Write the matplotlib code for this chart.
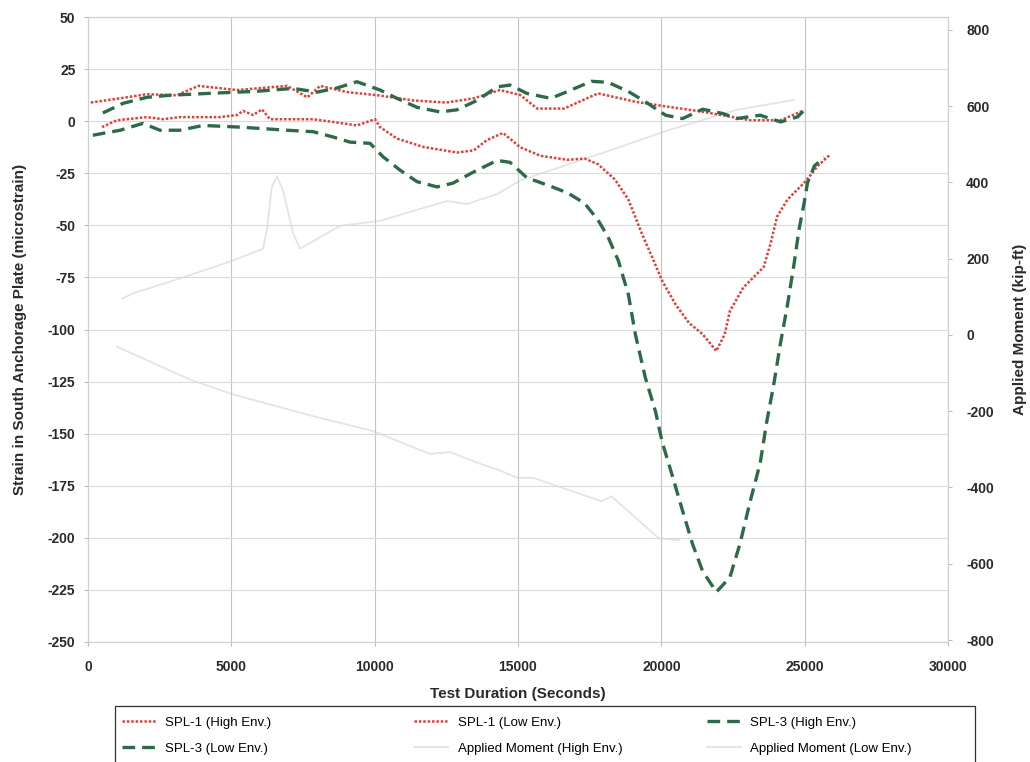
import numpy as np
import matplotlib.pyplot as plt
from matplotlib.patches import Rectangle

# values
# time in seconds, strain in microstrain
spl1_high_t = [100, 1100, 2050, 3100, 3850, 5200, 6950, 7650, 8100, 9050, 10100, 11350, 12500,
               13450, 14370, 15080, 15670, 16610, 17790, 19090, 20030, 21440, 23090, 24160, 24980]
spl1_high = [9, 11, 13, 12.5, 17, 15, 17, 11.5, 17, 14, 12.5, 10, 9,
             11, 15, 12.6, 6.1, 6.1, 13.4, 9.4, 7.4, 4.6, 0.5, 0.5, 5.3]

spl1_low_t = [490, 1010, 2050, 2620, 3200, 4600, 5200, 5410, 5760, 6070, 6350, 7850, 8790, 9380,
              10010, 10190, 10780, 11690, 12870, 13450, 13920, 14480, 15080, 15790, 16730, 17320,
              17790, 18380, 18850, 19320, 19680, 20030, 20500, 20970, 21440, 21920, 22210, 22390,
              22860, 23570, 23810, 24040, 24400, 25040, 25460, 25870]
spl1_low = [-2.8, 0.5, 2, 1, 2, 2, 3, 5, 3, 5.7, 1, 1, -0.8, -2,
            1, -2.8, -8.3, -12.3, -15, -14, -9, -5.6, -12.5, -16.6, -18.5, -17.9,
            -20.6, -27.9, -37.6, -53.9, -65.2, -76.6, -88, -96.9, -102.2, -110.3, -102.2, -91.2,
            -79.8, -70, -58.7, -45.7, -37.6, -28.7, -21.4, -16.2]

spl3_high_t = [520, 1220, 2050, 2860, 4360, 5900, 7150, 7990, 8690, 9380, 10190, 10780, 11480,
               12280, 12870, 13570, 14270, 14720, 15310, 16140, 16730, 17560, 18140, 18850, 19440,
               20150, 20740, 21440, 22150, 22620, 23450, 24160, 24750, 25040]
spl3_high = [4, 8.6, 11.5, 12.5, 13.5, 14.4, 15.8, 14, 16, 19, 15, 11, 6.7,
             4.5, 5.5, 10, 16.5, 17.4, 13.4, 11, 14.3, 19.2, 18.7, 14.3, 9.4,
             2.9, 1.3, 5.8, 3.7, 1.3, 2.9, -0.3, 2.1, 6.1]

spl3_low_t = [170, 1120, 1920, 2510, 3210, 4010, 5300, 6950, 7850, 8540, 9140, 9840, 10290, 10890,
              11480, 12180, 12730, 13430, 14270, 14720, 15310, 16140, 16730, 17320, 17790, 18140,
              18500, 18850, 19090, 19440, 19800, 20030, 20380, 20740, 21090, 21440, 21920, 22390,
              22740, 23090, 23450, 23680, 23920, 24150, 24390, 24630, 24800, 24980, 25100, 25340, 25690]
spl3_low = [-6.7, -4.3, -1, -4.3, -4.3, -2, -2.8, -4.3, -5, -7.5, -10, -10.6, -17, -23.5,
            -29, -31.5, -29.7, -24.5, -18.8, -19.7, -27.1, -31.2, -34.4, -39.3, -47.4, -55.5,
            -66.9, -83.1, -102, -123, -139.5, -154, -170, -187, -203, -216, -226, -219,
            -203, -183, -164, -144, -126.5, -107, -89, -68.5, -52.2, -39.3, -29.5, -21.4, -17.4]

# applied moment in kip-ft (right axis)
mom_high_t = [1200, 1570, 3210, 5060, 6110, 6250, 6410, 6590, 6810, 7160, 7400, 8790, 10190,
              12520, 13220, 14270, 15080, 17910, 20270, 22620, 24630]
mom_high = [95, 109, 148, 195, 226, 280, 386, 416, 377, 265, 226, 286, 299,
            351, 343, 369, 405, 476, 537, 590, 616]

mom_low_t = [1010, 3560, 5060, 7850, 9940, 11930, 12630, 13680, 14370, 14970, 15550, 17910,
             18260, 19910, 20620]
mom_low = [-31, -117, -156, -213, -252, -312, -307, -338, -355, -375, -375, -436,
           -423, -533, -538]

plt.rcParams['font.family'] = ['Liberation Sans', 'DejaVu Sans']
plt.rcParams['axes.unicode_minus'] = False

red = '#e0403a'
green = '#2d6b48'
light = '#e4e4e4'
txt = '#2a2a2a'

fig = plt.figure(figsize=(10.3, 7.62), dpi=100)
ax = fig.add_axes([0.0854, 0.1575, 0.835, 0.820])
ax2 = ax.twinx()

# moment lines sit behind the strain lines
ax.set_zorder(ax2.get_zorder() + 1)
ax.patch.set_visible(False)

m1, = ax2.plot(mom_high_t, mom_high, color=light, lw=1.3, label='Applied Moment (High Env.)')
m2, = ax2.plot(mom_low_t, mom_low, color=light, lw=1.3, label='Applied Moment (Low Env.)')

dots = (0, (1, 0.75))
dash = (0, (3.8, 2.1))
l1, = ax.plot(spl1_high_t, spl1_high, color=red, lw=1.8, ls=dots, label='SPL-1 (High Env.)')
l2, = ax.plot(spl1_low_t, spl1_low, color=red, lw=1.8, ls=dots, label='SPL-1 (Low Env.)')
l3, = ax.plot(spl3_high_t, spl3_high, color=green, lw=2.4, ls=dash, label='SPL-3 (High Env.)')
l4, = ax.plot(spl3_low_t, spl3_low, color=green, lw=2.4, ls=dash, label='SPL-3 (Low Env.)')

ax.set_xlim(0, 30000)
ax.set_ylim(-250, 50)
ax.set_xticks(np.arange(0, 30001, 5000))
ax.set_yticks(np.arange(-250, 51, 25))
ax2.set_ylim(-805, 833)
ax2.set_yticks(np.arange(-800, 801, 200))

ax.grid(axis='x', color='#c4c4c4', lw=0.8)
ax.grid(axis='y', color='#dadada', lw=0.8)

for a in (ax, ax2):
    for s in a.spines.values():
        s.set_color('#d0d0d0')
        s.set_linewidth(0.8)

ax.tick_params(axis='both', length=3, color='#bdbdbd', labelsize=10, labelcolor=txt)
ax.tick_params(axis='x', pad=10)
ax.tick_params(axis='y', pad=6)
ax2.tick_params(axis='y', length=3, color='#bdbdbd', labelsize=10, labelcolor=txt, pad=10)
for lab in ax.get_xticklabels() + ax.get_yticklabels() + ax2.get_yticklabels():
    lab.set_fontweight('bold')

ax.set_xlabel('Test Duration (Seconds)', fontsize=11, fontweight='bold', color=txt)
ax.set_ylabel('Strain in South Anchorage Plate (microstrain)', fontsize=11, fontweight='bold', color=txt)
ax2.set_ylabel('Applied Moment (kip-ft)', fontsize=11, fontweight='bold', color=txt)
ax.xaxis.set_label_coords(0.5, -0.072)
ax.yaxis.set_label_coords(-0.071, 0.5)
ax2.yaxis.set_label_coords(1.075, 0.5)

# legend: three equal-width columns inside one box, filled row by row
columns = [[l1, l4], [l2, m1], [l3, m2]]
col_x = [0.118, 0.402, 0.686]
for cx, hs in zip(col_x, columns):
    fig.legend(handles=hs, labels=[h.get_label() for h in hs], loc='upper left',
               bbox_to_anchor=(cx, 0.0597), frameon=False, borderpad=0, borderaxespad=0,
               prop={'size': 9.5}, handlelength=2.6, handletextpad=0.7, labelspacing=1.06)
fig.add_artist(Rectangle((0.112, -0.05), 0.835, 0.1235, transform=fig.transFigure,
                         fill=False, ec='#333333', lw=0.9))

fig.savefig('out.png', dpi=100)
